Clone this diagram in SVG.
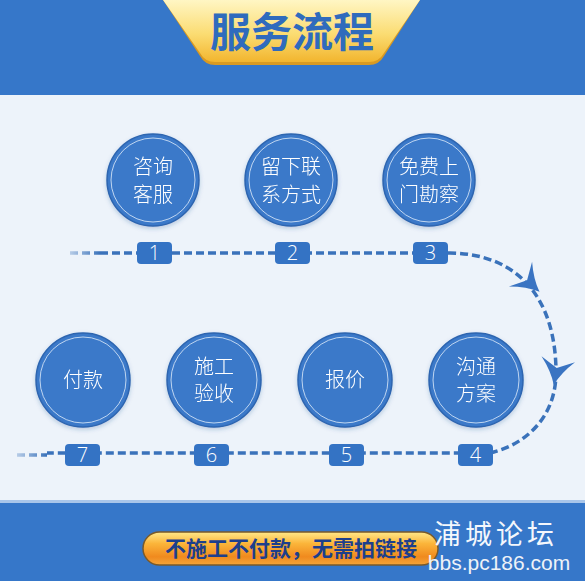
<svg xmlns="http://www.w3.org/2000/svg" width="585" height="581" viewBox="0 0 585 581">
<defs>
<style>
.band{fill:#3677c9}
.node circle.o{fill:#3b79c9;stroke:#2d65b0;stroke-width:1.5}
.node circle.i{fill:none;stroke:#d6e5f7;stroke-width:1;opacity:.85}
.node text{font-family:"Noto Sans CJK SC","Noto Sans",sans-serif;font-size:20px;fill:#ffffff;text-anchor:middle;font-weight:300}
.num rect{fill:#3473c4}
.num text{font-family:"Open Sans","Noto Sans",sans-serif;font-weight:300;font-size:20px;fill:#ffffff;text-anchor:middle}
.dash{fill:none;stroke:#3a72ba;stroke-width:3.5;stroke-dasharray:8 4}
.arrow{fill:#3a74c2}
</style>
<linearGradient id="tabg" x1="0" y1="0" x2="0" y2="1">
<stop offset="0" stop-color="#fff6c4"/>
<stop offset="0.55" stop-color="#fbdc72"/>
<stop offset="1" stop-color="#f2b52e"/>
</linearGradient>
<linearGradient id="pill" x1="0" y1="0" x2="0" y2="1">
<stop offset="0" stop-color="#ffe98a"/>
<stop offset="0.35" stop-color="#fbb53a"/>
<stop offset="0.75" stop-color="#f08a1e"/>
<stop offset="1" stop-color="#f4a53a"/>
</linearGradient>
<linearGradient id="fade1" gradientUnits="userSpaceOnUse" x1="70" y1="0" x2="100" y2="0">
<stop offset="0" stop-color="#3a72ba" stop-opacity="0.3"/>
<stop offset="1" stop-color="#3a72ba"/>
</linearGradient>
<linearGradient id="fade2" gradientUnits="userSpaceOnUse" x1="17" y1="0" x2="47" y2="0">
<stop offset="0" stop-color="#3a72ba" stop-opacity="0.3"/>
<stop offset="1" stop-color="#3a72ba"/>
</linearGradient>
<filter id="sh" x="-20%" y="-20%" width="140%" height="140%">
<feDropShadow dx="0" dy="2" stdDeviation="2" flood-color="#1d4f8f" flood-opacity="0.25"/>
</filter>
<path id="ah" d="M13,0 Q0,-5 -13,-17 L-4,0 L-13,17 Q0,5 13,0Z"/>
</defs>
<rect width="585" height="581" fill="#edf3fa"/>
<rect class="band" x="0" y="0" width="585" height="95"/>
<path d="M163,0 L420,0 L384,56 Q379,65 369,65 L215,65 Q205,65 200,56 Z" fill="#d99a22"/>
<path d="M163,0 L420,0 L384,53 Q379,62 369,62 L215,62 Q205,62 200,53 Z" fill="url(#tabg)"/>
<text x="292" y="47" font-family="Noto Sans CJK SC,sans-serif" font-size="41" font-weight="700" fill="#2f6bbd" text-anchor="middle">服务流程</text>
<rect x="0" y="500" width="585" height="3" fill="#a9c6ea"/>
<rect class="band" x="0" y="503" width="585" height="78"/>
<g id="connectors">
<path class="dash" d="M100,253 H450 C520,254 555,300 556,370 C557,415 528,444 490,453 H47"/>
<path d="M70,253 H100" fill="none" stroke="url(#fade1)" stroke-width="3.5" stroke-dasharray="8 4"/>
<path d="M17,455 H47" fill="none" stroke="url(#fade2)" stroke-width="3.5" stroke-dasharray="8 4"/>
<use href="#ah" class="arrow" transform="translate(530,283) rotate(43)"/>
<use href="#ah" class="arrow" transform="translate(556,372) rotate(100)"/>
</g>
<g id="n1" class="node" filter="url(#sh)"><circle class="o" cx="153" cy="180" r="46"/><circle class="i" cx="153" cy="180" r="42"/><text x="153" y="174">咨询</text><text x="153" y="202">客服</text></g>
<g id="n2" class="node" filter="url(#sh)"><circle class="o" cx="291" cy="180" r="46"/><circle class="i" cx="291" cy="180" r="42"/><text x="291" y="174">留下联</text><text x="291" y="202">系方式</text></g>
<g id="n3" class="node" filter="url(#sh)"><circle class="o" cx="429" cy="180" r="46"/><circle class="i" cx="429" cy="180" r="42"/><text x="429" y="174">免费上</text><text x="429" y="202">门勘察</text></g>
<g id="n4" class="node" filter="url(#sh)"><circle class="o" cx="476" cy="380" r="47"/><circle class="i" cx="476" cy="380" r="43"/><text x="476" y="374">沟通</text><text x="476" y="401">方案</text></g>
<g id="n5" class="node" filter="url(#sh)"><circle class="o" cx="345" cy="380" r="47"/><circle class="i" cx="345" cy="380" r="43"/><text x="345" y="387">报价</text></g>
<g id="n6" class="node" filter="url(#sh)"><circle class="o" cx="214" cy="380" r="47"/><circle class="i" cx="214" cy="380" r="43"/><text x="214" y="374">施工</text><text x="214" y="401">验收</text></g>
<g id="n7" class="node" filter="url(#sh)"><circle class="o" cx="83" cy="380" r="47"/><circle class="i" cx="83" cy="380" r="43"/><text x="83" y="387">付款</text></g>
<g id="b1" class="num"><rect x="137" y="242" width="35" height="22" rx="4"/><text x="154.5" y="260">1</text></g>
<g id="b2" class="num"><rect x="275" y="242" width="35" height="22" rx="4"/><text x="292.5" y="260">2</text></g>
<g id="b3" class="num"><rect x="413" y="242" width="35" height="22" rx="4"/><text x="430.5" y="260">3</text></g>
<g id="b4" class="num"><rect x="458" y="444" width="35" height="22" rx="4"/><text x="475.5" y="462">4</text></g>
<g id="b5" class="num"><rect x="329" y="444" width="35" height="22" rx="4"/><text x="346.5" y="462">5</text></g>
<g id="b6" class="num"><rect x="194" y="444" width="35" height="22" rx="4"/><text x="211.5" y="462">6</text></g>
<g id="b7" class="num"><rect x="65" y="444" width="35" height="22" rx="4"/><text x="82.5" y="462">7</text></g>
<rect x="143" y="532" width="295" height="33" rx="16.5" fill="url(#pill)" stroke="#7a5a2a" stroke-width="1.5"/>
<text x="291" y="556" font-family="Noto Sans CJK SC,sans-serif" font-size="21" font-weight="700" fill="#1d3f8c" text-anchor="middle">不施工不付款，无需拍链接</text>
<text x="496" y="544" font-family="Noto Sans CJK SC,sans-serif" font-size="27" fill="#f4f7fc" text-anchor="middle" letter-spacing="4">浦城论坛</text>
<text x="499" y="570" font-family="Liberation Sans,Arial,sans-serif" font-size="21" fill="#eef2f8" text-anchor="middle">bbs.pc186.com</text>
</svg>
